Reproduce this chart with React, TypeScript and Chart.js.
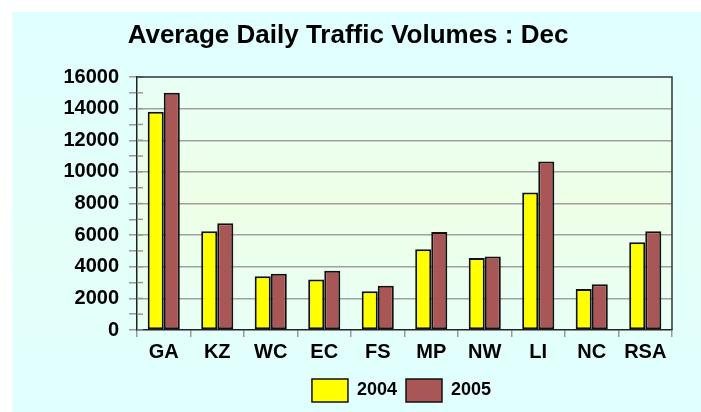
import React, { useEffect, useRef } from "react";
import { Chart, registerables } from "chart.js";

Chart.register(...registerables);

const categories = ["GA", "KZ", "WC", "EC", "FS", "MP", "NW", "LI", "NC", "RSA"];
const values2004 = [13800, 6250, 3400, 3200, 2450, 5100, 4550, 8700, 2600, 5550];
const values2005 = [15000, 6750, 3550, 3750, 2800, 6200, 4650, 10650, 2900, 6250];
const seriesLabels = ["2004", "2005"];
const titleText = "Average Daily Traffic Volumes : Dec";

const FONT = "'Liberation Sans', Arial, sans-serif";
const LEGEND_CENTER = 406;

const plotBg = {
  id: "plotBg",
  afterLayout(chart: any) {
    const lg = chart.legend;
    if (lg) {
      const pad = lg.options.labels.padding || 0;
      const shift = LEGEND_CENTER - (lg.left + lg.right + pad) / 2;
      lg.left += shift;
      lg.right += shift;
    }
  },
  beforeDraw(chart: any) {
    const { ctx, chartArea: a } = chart;
    ctx.save();
    const g = ctx.createLinearGradient(0, a.top, 0, a.bottom);
    g.addColorStop(0, "#E8FFF6");
    g.addColorStop(0.5, "#EEFFE6");
    g.addColorStop(1, "#E8FFF6");
    ctx.fillStyle = g;
    ctx.fillRect(a.left, a.top, a.right - a.left, a.bottom - a.top);
    ctx.restore();
  },
  afterDatasetsDraw(chart: any) {
    const { ctx, chartArea: a } = chart;
    const y = chart.scales.y;
    ctx.save();
    ctx.strokeStyle = "#999";
    ctx.lineWidth = 1.5;
    y.ticks.forEach((t: any) => {
      const py = y.getPixelForValue(t.value);
      ctx.beginPath();
      ctx.moveTo(a.left, py);
      ctx.lineTo(a.left + 6, py);
      ctx.stroke();
    });
    ctx.strokeStyle = "#333";
    ctx.beginPath();
    ctx.moveTo(a.left, a.top);
    ctx.lineTo(a.right, a.top);
    ctx.lineTo(a.right, a.bottom);
    ctx.stroke();
    ctx.restore();
  },
};

export default function App() {
  const ref = useRef<HTMLCanvasElement>(null);
  useEffect(() => {
    const chart = new Chart(ref.current!, {
      type: "bar",
      data: {
        labels: categories,
        datasets: [
          {
            label: seriesLabels[0],
            data: values2004,
            backgroundColor: "#FFFF00",
            borderColor: "#111",
            borderWidth: 2,
            borderSkipped: false,
          },
          {
            label: seriesLabels[1],
            data: values2005,
            backgroundColor: "#A95656",
            borderColor: "#111",
            borderWidth: 2,
            borderSkipped: false,
          },
        ],
      },
      options: {
        animation: false,
        responsive: false,
        devicePixelRatio: 1,
        layout: { padding: { left: 24, right: 29, top: 0, bottom: 0 } },
        datasets: { bar: { categoryPercentage: 0.6, barPercentage: 1 } },
        plugins: {
          title: {
            display: true,
            text: titleText,
            color: "#000",
            font: { family: FONT, size: 26, weight: "bold" },
            padding: { top: 20.5, bottom: 25.3 },
          },
          legend: {
            position: "bottom",
            labels: {
              color: "#000",
              boxWidth: 36,
              boxHeight: 23,
              padding: 9,
              font: { family: FONT, size: 18, weight: "bold" },
              generateLabels: (c: any) =>
                c.data.datasets.map((d: any, i: number) => ({
                  text: d.label,
                  fillStyle: d.backgroundColor,
                  strokeStyle: "#111",
                  lineWidth: 1.5,
                  hidden: false,
                  datasetIndex: i,
                  fontColor: "#000",
                })),
            },
          },
          tooltip: { enabled: false },
        },
        scales: {
          x: {
            grid: {
              offset: true,
              drawOnChartArea: false,
              tickLength: 7,
              tickColor: "#999",
              lineWidth: 1.5,
            },
            border: { color: "#222", width: 1.5 },
            ticks: {
              color: "#000",
              padding: 3,
              font: { family: FONT, size: 20, weight: "bold" },
            },
            afterFit: (s: any) => {
              s.height = 40;
            },
          },
          y: {
            min: 0,
            max: 16000,
            grid: {
              color: (c: any) =>
                c.tick && c.tick.value % 2000 === 0 && c.tick.value !== 0 && c.tick.value !== 16000
                  ? "#A0A0A0"
                  : "rgba(0,0,0,0)",
              tickColor: "#999",
              tickLength: 8,
              lineWidth: 1.5,
            },
            border: { color: "#222", width: 1.5 },
            ticks: {
              stepSize: 1000,
              autoSkip: false,
              color: "#000",
              padding: 10,
              font: { family: FONT, size: 20, weight: "bold" },
              callback: (v: any) => (Number(v) % 2000 === 0 ? String(v) : ""),
            },
            afterFit: (s: any) => {
              s.width = 113;
            },
          },
        },
      },
      plugins: [plotBg],
    });
    return () => chart.destroy();
  }, []);
  return (
    <div
      style={{
        position: "absolute",
        left: 0,
        top: 0,
        width: 701,
        height: 412,
        background: "#fff",
      }}
    >
      <div
        style={{
          position: "absolute",
          left: 12,
          top: 12,
          right: 0,
          bottom: 0,
          background: "linear-gradient(180deg, #E0FFFF 0%, #E4FFF8 60%, #E0FFFF 100%)",
        }}
      />
      <canvas
        ref={ref}
        width={701}
        height={412}
        style={{ position: "absolute", left: 0, top: 0, width: 701, height: 412 }}
      />
    </div>
  );
}
